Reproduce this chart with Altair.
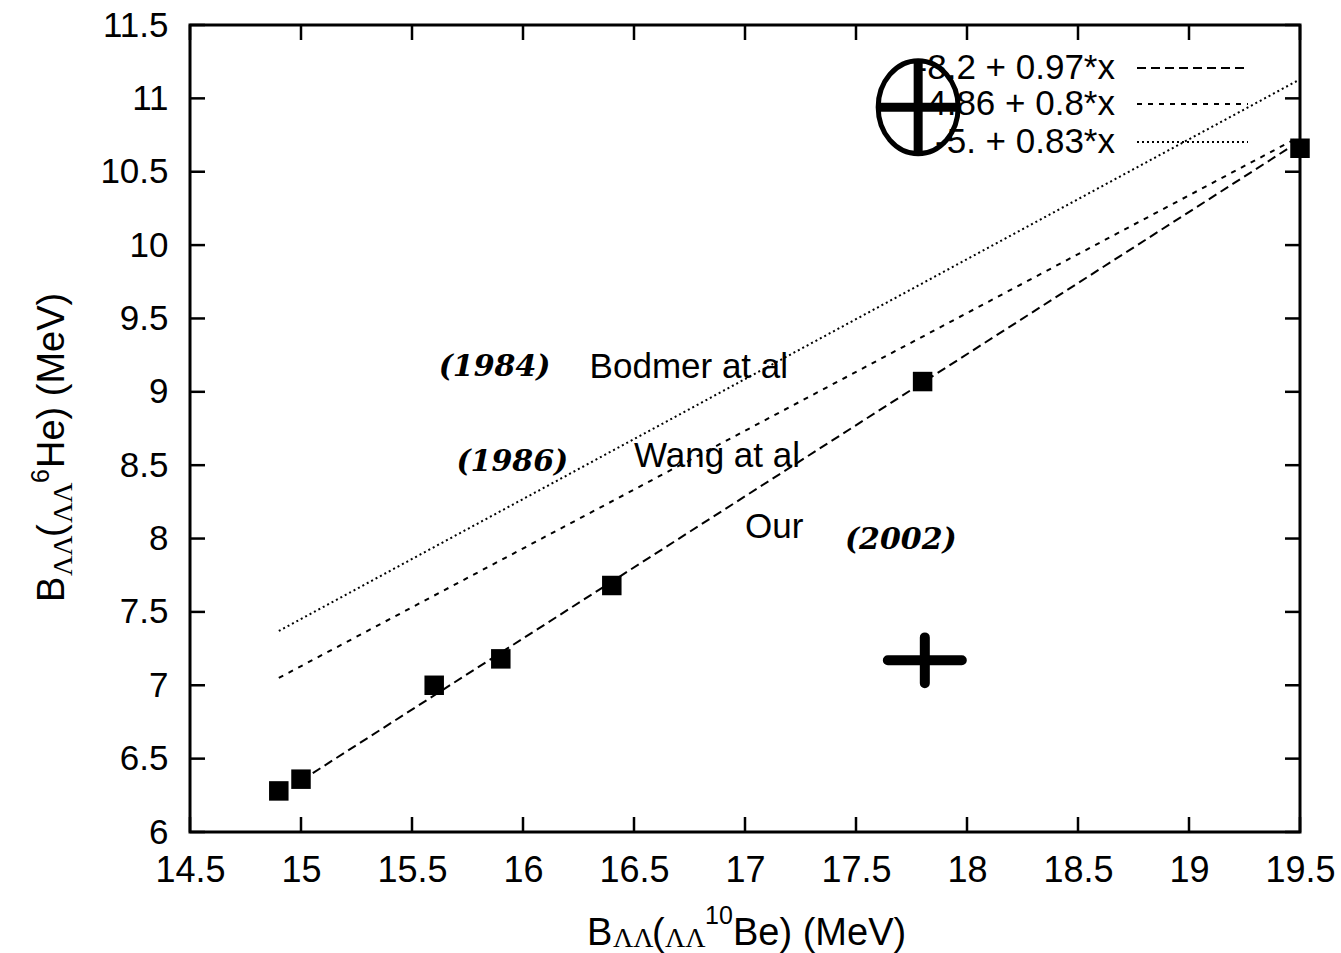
import altair as alt
import pandas as pd

# ---- data ----
x_vals = [14.9, 15.0, 15.6, 15.9, 16.4, 17.8, 19.5]
y_vals = [6.28, 6.36, 7.0, 7.18, 7.68, 9.07, 10.66]

fit_names = ["Our", "Wang", "Bodmer"]
fit_x_start = [15.0, 14.9, 14.9]
fit_x_end = [19.5, 19.5, 19.5]
fit_y_start = [6.35, 7.05, 7.37]
fit_y_end = [10.71, 10.74, 11.13]
legend_labels = ["-8.2 + 0.97*x", "-4.86 + 0.8*x", "-5. + 0.83*x"]

note_text = ["Bodmer at al", "Wang at al", "Our"]
note_x = [16.30, 16.50, 17.00]
note_y = [9.17, 8.56, 8.08]

hand_text = ["(1984)", "(1986)", "(2002)"]
hand_x = [15.62, 15.70, 17.45]
hand_y = [9.17, 8.52, 7.99]

scribble_x = [17.78, 17.81]
scribble_y = [10.94, 7.17]

x_ticks = [14.5, 15, 15.5, 16, 16.5, 17, 17.5, 18, 18.5, 19, 19.5]
y_ticks = [6, 6.5, 7, 7.5, 8, 8.5, 9, 9.5, 10, 10.5, 11, 11.5]

W, H = 1110, 807
FONT = "Liberation Sans"
FS = 35
LFS = 36

xs = alt.Scale(domain=[14.5, 19.5], nice=False, zero=False)
ys = alt.Scale(domain=[6, 11.5], nice=False, zero=False)

x_axis = alt.Axis(values=x_ticks, format="~g", title=None, grid=False, ticks=False, tickSize=0,
                  domain=False, labelFont=FONT, labelFontSize=LFS, labelColor="black",
                  labelPadding=21, labelFlush=False, labelOverlap=False)
y_axis = alt.Axis(values=y_ticks, format="~g", title=None, grid=False, ticks=False, tickSize=0,
                  domain=False, labelFont=FONT, labelFontSize=FS, labelColor="black",
                  labelPadding=22, labelOverlap=False)

pts = pd.DataFrame({"x": x_vals, "y": y_vals})
points = alt.Chart(pts).mark_square(size=380, color="black", opacity=1).encode(
    x=alt.X("x:Q", scale=xs, axis=x_axis),
    y=alt.Y("y:Q", scale=ys, axis=y_axis),
)

dashes = {"Our": [9, 5], "Wang": [5, 6], "Bodmer": [2, 3]}
layers = []
for i, n in enumerate(fit_names):
    d = pd.DataFrame({"x": [fit_x_start[i], fit_x_end[i]], "y": [fit_y_start[i], fit_y_end[i]]})
    layers.append(
        alt.Chart(d).mark_line(color="black", strokeWidth=2, strokeDash=dashes[n]).encode(
            x=alt.X("x:Q", scale=xs), y=alt.Y("y:Q", scale=ys)
        )
    )

# inward ticks on all four sides
xt = pd.DataFrame({"v": x_ticks})
yt = pd.DataFrame({"v": y_ticks})
TL = 15
tick_layers = [
    alt.Chart(xt).mark_rule(color="black", strokeWidth=2.5).encode(
        x=alt.X("v:Q", scale=xs), y=alt.value(H), y2=alt.value(H - TL)),
    alt.Chart(xt).mark_rule(color="black", strokeWidth=2.5).encode(
        x=alt.X("v:Q", scale=xs), y=alt.value(0), y2=alt.value(TL)),
    alt.Chart(yt).mark_rule(color="black", strokeWidth=2.5).encode(
        y=alt.Y("v:Q", scale=ys), x=alt.value(0), x2=alt.value(TL)),
    alt.Chart(yt).mark_rule(color="black", strokeWidth=2.5).encode(
        y=alt.Y("v:Q", scale=ys), x=alt.value(W), x2=alt.value(W - TL)),
]

notes = alt.Chart(pd.DataFrame({"t": note_text, "x": note_x, "y": note_y})).mark_text(
    font=FONT, fontSize=FS, align="left", baseline="middle", color="black"
).encode(x=alt.X("x:Q", scale=xs), y=alt.Y("y:Q", scale=ys), text="t:N")

hand = alt.Chart(pd.DataFrame({"t": hand_text, "x": hand_x, "y": hand_y})).mark_text(
    font="DejaVu Serif", fontSize=30, fontStyle="italic", fontWeight="bold",
    align="left", baseline="middle", color="black"
).encode(x=alt.X("x:Q", scale=xs), y=alt.Y("y:Q", scale=ys), text="t:N")

# legend (gnuplot key, top right)
legend_layers = []
key_y = [43, 79, 117]
key_dash = [dashes["Our"], dashes["Wang"], dashes["Bodmer"]]
for i, lab in enumerate(legend_labels):
    legend_layers.append(
        alt.Chart(pd.DataFrame({"t": [lab]})).mark_text(
            font=FONT, fontSize=FS, align="right", baseline="middle", color="black"
        ).encode(x=alt.value(925), y=alt.value(key_y[i]), text="t:N")
    )
    legend_layers.append(
        alt.Chart(pd.DataFrame({"t": [lab]})).mark_rule(
            color="black", strokeWidth=2, strokeDash=key_dash[i]
        ).encode(x=alt.value(947), x2=alt.value(1058), y=alt.value(key_y[i]))
    )

# handwritten scribbles (circled cross over legend, plus mark)
scr = pd.DataFrame({"x": scribble_x[:1], "y": scribble_y[:1]})
ellipse = alt.Chart(scr).mark_point(
    shape="M-0.86,0A0.86,1,0,1,1,0.86,0A0.86,1,0,1,1,-0.86,0Z",
    size=8649, filled=False, color="black", strokeWidth=5, opacity=1
).encode(x=alt.X("x:Q", scale=xs), y=alt.Y("y:Q", scale=ys))
ecross = alt.Chart(scr).mark_point(
    shape="M-0.86,0L0.86,0M0,-1L0,1", size=8649, filled=False, color="black",
    strokeWidth=9, opacity=1
).encode(x=alt.X("x:Q", scale=xs), y=alt.Y("y:Q", scale=ys))
scr2 = pd.DataFrame({"x": scribble_x[1:], "y": scribble_y[1:]})
plus = alt.Chart(scr2).mark_point(
    shape="M-1,0L1,0M0,-0.62L0,0.62", size=5476, filled=False, color="black",
    strokeWidth=10, strokeCap="round", opacity=1
).encode(x=alt.X("x:Q", scale=xs), y=alt.Y("y:Q", scale=ys))

# axis titles with sub/superscripts
def piece(t, x, y, fs, angle=0, font=FONT):
    kw = dict(font=font, fontSize=fs, align="left", baseline="alphabetic", color="black")
    if angle:
        kw["angle"] = angle
    return alt.Chart(pd.DataFrame({"t": [t]})).mark_text(**kw).encode(
        x=alt.value(x), y=alt.value(y), text="t:N")

TFS, SFS = 38, 28
SERIF = "Liberation Serif"
title_layers = [
    piece("B", 397, 920, TFS),
    piece("ΛΛ", 423, 922, SFS, font=SERIF),
    piece("(", 462, 920, TFS),
    piece("ΛΛ", 475, 922, SFS, font=SERIF),
    piece("10", 515, 899, 25),
    piece("Be) (MeV)", 543, 920, TFS),
    piece("B", -126, 577, TFS, 270),
    piece("ΛΛ", -118, 551, SFS, 270, font=SERIF),
    piece("(", -126, 512, TFS, 270),
    piece("ΛΛ", -118, 498, SFS, 270, font=SERIF),
    piece("6", -141, 458, 25, 270),
    piece("He) (MeV)", -126, 443, TFS, 270),
]

chart = alt.layer(
    *layers, points, *tick_layers, notes, hand, *legend_layers, ellipse, ecross, plus, *title_layers
).properties(
    width=W, height=H,
    padding={"left": 190, "top": 25, "right": 41, "bottom": 121},
    autosize=alt.AutoSizeParams(type="none"),
    background="white",
).configure_view(stroke="black", strokeWidth=3)

chart.save("out.html", embed_options={"renderer": "svg", "actions": False})
